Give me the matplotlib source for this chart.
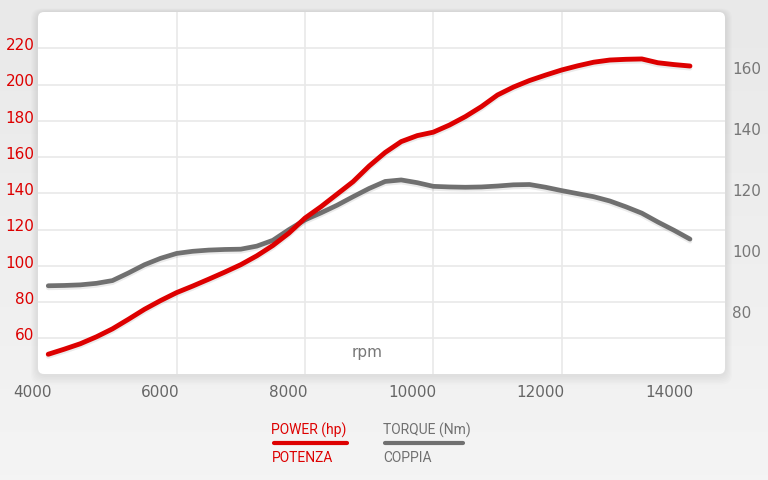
import numpy as np
import matplotlib
matplotlib.use("Agg")
import matplotlib.pyplot as plt
import matplotlib.patheffects as pe
from matplotlib.patches import FancyBboxPatch
from matplotlib.transforms import ScaledTranslation

# Dati (passo 250 rpm)
rpm = list(range(4000, 14001, 250))
power_hp = [51.2, 54.0, 57.0, 60.8, 65.2, 70.5, 76.0, 80.8, 85.2, 88.8,
            92.6, 96.5, 100.6, 105.5, 111.2, 118.0, 126.3, 132.6, 139.5, 146.4,
            155.0, 162.5, 168.5, 171.8, 173.7, 177.6, 182.3, 187.8, 194.2, 198.6,
            202.2, 205.2, 208.0, 210.3, 212.3, 213.5, 213.9, 214.1, 212.0, 211.0,
            210.2]
torque_nm = [88.6, 88.7, 88.9, 89.4, 90.3, 92.8, 95.5, 97.6, 99.2, 99.9,
             100.3, 100.5, 100.6, 101.6, 103.5, 107.0, 110.2, 112.5, 115.0, 117.8,
             120.5, 122.8, 123.3, 122.4, 121.2, 121.0, 120.9, 121.0, 121.3, 121.7,
             121.8, 120.9, 119.8, 118.8, 117.8, 116.4, 114.5, 112.4, 109.5, 106.8,
             103.9]

power_ticks = [60, 80, 100, 120, 140, 160, 180, 200, 220]
torque_ticks = [80, 100, 120, 140, 160]
rpm_ticks = [4000, 6000, 8000, 10000, 12000, 14000]
rpm_grid = [6000, 8000, 10000, 12000]

RED = '#dd0000'
GREY = '#707070'
W, H = 768, 480

fig = plt.figure(figsize=(W / 100, H / 100), dpi=100)

# sfondo grigio con pannello bianco arrotondato
bg = fig.add_axes([0, 0, 1, 1])
bg.set_xlim(0, W)
bg.set_ylim(H, 0)
bg.axis('off')
grad = np.linspace(0, 1, 100).reshape(-1, 1)
bg.imshow(grad, extent=[0, W, H, 0], cmap=matplotlib.colors.LinearSegmentedColormap.from_list(
    'g', ['#e9e9e9', '#f4f4f4']), aspect='auto', zorder=0)
for i in range(6):
    d = 14 - 2 * i
    bg.add_patch(FancyBboxPatch((38 - d / 2, 12 - d / 4), 687 + d, 362 + d,
                                boxstyle='round,pad=0,rounding_size=10', fc='k', ec='none',
                                alpha=0.012, zorder=1))
bg.add_patch(FancyBboxPatch((38, 12), 687, 362, boxstyle='round,pad=0,rounding_size=6',
                            fc='white', ec='none', zorder=2))

# legenda
def fx(x):
    return x / W

def fy(y):
    return 1 - y / H

fig.text(fx(271), fy(430), 'POWER (hp)', color=RED, fontsize=10, family='Roboto', va='center')
fig.text(fx(272), fy(458), 'POTENZA', color=RED, fontsize=10, family='Roboto', va='center')
fig.text(fx(383), fy(430), 'TORQUE (Nm)', color=GREY, fontsize=10, family='Roboto', va='center')
fig.text(fx(383), fy(458), 'COPPIA', color=GREY, fontsize=10, family='Roboto', va='center')
bg.plot([274, 347], [443, 443], color=RED, lw=3, solid_capstyle='round', zorder=3)
bg.plot([385, 463], [443, 443], color=GREY, lw=3, solid_capstyle='round', zorder=3)

# grafico principale
ax = fig.add_axes([38 / W, 1 - 374 / H, 687 / W, 362 / H])
ax.patch.set_alpha(0)
ax2 = ax.twinx()

ax.set_xlim(3840, 14546)
ax.set_ylim(40.3, 240.0)
ax2.set_ylim(59.67, 178.36)

for a in (ax, ax2):
    for s in a.spines.values():
        s.set_visible(False)

for g in power_ticks:
    ax.axhline(g, color='#e9e9e9', lw=1.2, zorder=0)
for g in rpm_grid:
    ax.axvline(g, color='#e9e9e9', lw=1.2, zorder=0)

shadow = [pe.SimpleLineShadow(offset=(0, -1.5), shadow_color='k', alpha=0.08), pe.Normal()]
ax2.plot(rpm, torque_nm, color=GREY, lw=3.4, solid_capstyle='round',
         solid_joinstyle='round', path_effects=shadow, zorder=3)
ax3 = ax.twinx()
ax3.set_ylim(ax.get_ylim())
ax3.axis('off')
ax3.plot(rpm, power_hp, color=RED, lw=3.5, solid_capstyle='round',
         solid_joinstyle='round', path_effects=shadow, zorder=4)

ax.set_yticks(power_ticks)
ax.tick_params(axis='y', length=0, pad=2.5, labelcolor=RED, labelsize=11)
up = ScaledTranslation(0, 3 / 72, fig.dpi_scale_trans)
for lab in ax.get_yticklabels():
    lab.set_transform(lab.get_transform() + up)

ax.set_xticks(rpm_ticks)
ax.tick_params(axis='x', length=0, pad=8, labelcolor='#666666', labelsize=11)
right = ScaledTranslation(3 / 100, 0, fig.dpi_scale_trans)
for lab in ax.get_xticklabels():
    lab.set_horizontalalignment('right')
    lab.set_transform(lab.get_transform() + right)

ax2.set_yticks(torque_ticks)
ax2.tick_params(axis='y', length=0, pad=5, labelcolor='#777777', labelsize=11)

ax.text(0.479, 0.06, 'rpm', transform=ax.transAxes, ha='center', va='center',
        color='#777777', fontsize=11)

fig.savefig('out.png', dpi=100)
